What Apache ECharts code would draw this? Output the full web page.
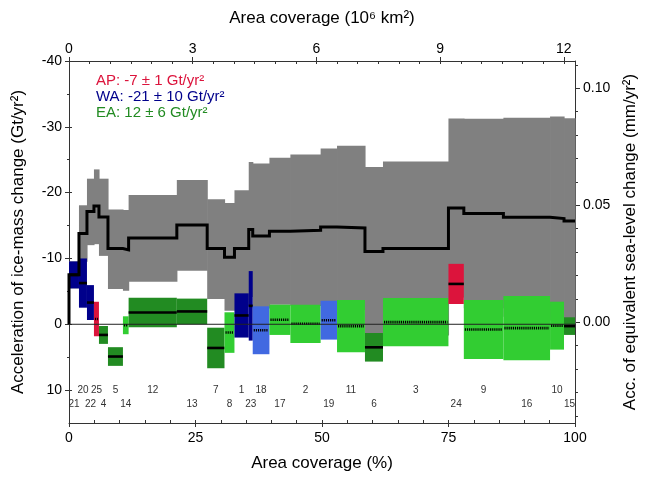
<!DOCTYPE html>
<html>
<head>
<meta charset="utf-8">
<script src="https://cdn.jsdelivr.net/npm/echarts@6/dist/echarts.min.js"></script>
<style>
  html, body { margin: 0; padding: 0; background: #fff; }
  #chart { width: 647px; height: 477px; }
</style>
</head>
<body>
<div id="chart"></div>
<script>
// ---- data ----
const basinIds = [21, 20, 22, 25, 4, 5, 14, 12, 13, 7, 8, 1, 23, 18, 17, 2, 19, 11, 6, 3, 24, 9, 16, 10, 15];
const region = ['WA','WA','WA','AP','EA','EA','EA','EA','EA','EA','EA','WA','WA','WA','EA','EA','WA','EA','EA','EA','AP','EA','EA','EA','EA'];
const significant = [1,1,1,0,1,1,0,1,1,1,0,1,1,0,0,0,0,0,1,0,1,0,0,0,1];
// basin edges along the area-coverage axis (%)
const edges = [0, 1.97, 3.55, 4.93, 5.92, 7.70, 10.66, 11.78, 21.31, 27.31, 30.73, 32.70, 35.52, 36.31,
               39.61, 43.75, 49.73, 52.97, 58.49, 62.05, 74.99, 78.03, 85.85, 95.07, 97.83, 100];
// basin acceleration (Gt/yr^2) and its uncertainty
const values = [-7.5, -6.26, -3.3, -0.8, 1.62, 4.9, 0.15, -1.8, -1.95, 3.6, 1.26, -1.34, -2.8, 0.91,
                -0.68, -0.07, -0.62, 0.28, 3.5, -0.33, -6.13, 0.79, 0.58, 0.21, 0.28];
const errors = [2.05, 3.74, 2.65, 2.62, 1.36, 1.42, 1.36, 2.24, 1.95, 3.08, 3.08, 3.36, 5.28, 3.64,
                2.3, 2.9, 2.95, 3.96, 2.17, 3.66, 3.05, 4.47, 4.87, 3.64, 1.34];
// cumulative curve and its uncertainty band
const cumulative = [-7.52, -13.79, -17.12, -17.97, -16.3, -11.52, -11.3, -13.12, -15.09, -11.52, -10.2, -11.52,
                    -14.39, -13.42, -14.14, -14.29, -14.79, -14.64, -11.06, -11.52, -17.67, -16.82, -16.26, -16.06, -15.7];
const bandUpper = [-9.55, -18.08, -22.12, -23.53, -22.12, -17.42, -17.36, -19.64, -21.91, -18.98, -18.42, -20.35,
                   -24.64, -24.44, -25.3, -25.8, -26.71, -27.12, -23.88, -24.74, -31.26, -31.21, -31.36, -31.56, -31.3];
const bandLower = [-5.45, -9.5, -12.02, -12.17, -10.39, -5.35, -5.09, -6.45, -8.12, -3.83, -2.06, -2.69,
                   -4.14, -2.4, -2.98, -2.78, -2.87, -2.16, 1.76, 1.7, -4.08, -2.43, -1.16, -0.56, -0.1];
const legendLines = [
  { region: 'AP', text: 'AP: -7 \u00b1 1 Gt/yr\u00b2' },
  { region: 'WA', text: 'WA: -21 \u00b1 10 Gt/yr\u00b2' },
  { region: 'EA', text: 'EA: 12 \u00b1 6 Gt/yr\u00b2' }
];
// tick values
const bottomTicks = [0, 25, 50, 75, 100];
const bottomMinor = [0,5,10,15,20,25,30,35,40,45,50,55,60,65,70,75,80,85,90,95,100];
const topTicks = [0, 3, 6, 9, 12];
const topMinor = [0,0.5,1,1.5,2,2.5,3,3.5,4,4.5,5,5.5,6,6.5,7,7.5,8,8.5,9,9.5,10,10.5,11,11.5,12];
const leftTicks = [-40, -30, -20, -10, 0, 10];
const leftMinor = [-35,-25,-15,-5,5];
const rightTicks = [0, 0.05, 0.10];
const rightMinor = [-0.04,-0.03,-0.02,-0.01,0.01,0.02,0.03,0.04,0.06,0.07,0.08,0.09,0.11];

// ---- styles ----
const FONT = '"Liberation Sans", Arial, sans-serif';
const COLORS = {
  AP: ['#DC143C', '#DC143C'],
  WA: ['#4169E1', '#00008B'],
  EA: ['#32CD32', '#228B22']
};
const LEGEND_COLORS = { AP: '#DC143C', WA: '#00008B', EA: '#228B22' };

function rectOf(api, x0, x1, a, b) {
  const p0 = api.coord([x0, a]);
  const p1 = api.coord([x1, b]);
  return {
    x: Math.min(p0[0], p1[0]),
    y: Math.min(p0[1], p1[1]),
    width: Math.abs(p1[0] - p0[0]),
    height: Math.abs(p1[1] - p0[1])
  };
}

const bandData = basinIds.map((id, i) => [edges[i], edges[i + 1], bandUpper[i], bandLower[i]]);
const boxData = basinIds.map((id, i) => [edges[i], edges[i + 1], values[i], errors[i]]);
const labelData = basinIds.map((id, i) => [(edges[i] + edges[i + 1]) / 2, i % 2 === 0 ? 12.1 : 10.05, id]);
const cumData = [[0, 0]];
cumulative.forEach((c, i) => cumData.push([edges[i], c]));
cumData.push([100, cumulative[cumulative.length - 1]]);

const chart = echarts.init(document.getElementById('chart'), null, { renderer: 'canvas' });

const axisLineStyle = { color: '#333', width: 1 };
const labelStyle = { color: '#000', fontSize: 14, fontFamily: FONT };
const nameStyle = { color: '#000', fontSize: 17, fontFamily: FONT };
const noLine = { show: false, onZero: false };
const mainLine = { show: true, onZero: false, lineStyle: axisLineStyle };

function tickAxis(base, values, inside, length) {
  return Object.assign({}, base, {
    axisLine: noLine,
    axisTick: { show: true, inside: inside, customValues: values, length: length, lineStyle: axisLineStyle },
    axisLabel: { show: false }, splitLine: { show: false }
  });
}

const xBottom = { type: 'value', position: 'bottom', min: 0, max: 100 };
const xTop = { type: 'value', position: 'top', min: 0, max: 12.27 };
const yLeft = { type: 'value', position: 'left', min: -40, max: 15, inverse: true };
const yRight = { type: 'value', position: 'right', min: -0.0431, max: 0.1117 };

const option = {
  animation: false,
  backgroundColor: '#fff',
  grid: { left: 69, right: 71, top: 61, bottom: 53, containLabel: false },
  xAxis: [
    Object.assign({}, xBottom, {
      axisLine: mainLine,
      axisTick: { show: true, customValues: bottomTicks, length: 4, lineStyle: axisLineStyle },
      axisLabel: { customValues: bottomTicks, margin: 8, ...labelStyle },
      splitLine: { show: false },
      name: 'Area coverage (%)', nameLocation: 'middle', nameGap: 32, nameTextStyle: nameStyle
    }),
    tickAxis(xBottom, bottomMinor, true, 3),
    Object.assign({}, xTop, {
      axisLine: mainLine,
      axisTick: { show: true, customValues: topTicks, length: 4, lineStyle: axisLineStyle },
      axisLabel: { customValues: topTicks, margin: 5, ...labelStyle },
      splitLine: { show: false },
      name: 'Area coverage (10\u2076 km\u00b2)', nameLocation: 'middle', nameGap: 34, nameTextStyle: nameStyle
    }),
    tickAxis(xTop, topMinor, true, 3)
  ],
  yAxis: [
    Object.assign({}, yLeft, {
      axisLine: mainLine,
      axisTick: { show: true, customValues: leftTicks, length: 4, lineStyle: axisLineStyle },
      axisLabel: { customValues: leftTicks, margin: 7, ...labelStyle },
      splitLine: { show: false },
      name: 'Acceleration of ice-mass change (Gt/yr\u00b2)', nameLocation: 'middle', nameGap: 42,
      nameRotate: 90, nameTextStyle: nameStyle
    }),
    tickAxis(yLeft, leftTicks, true, 3),
    tickAxis(yLeft, leftMinor, false, 2),
    Object.assign({}, yRight, {
      axisLine: mainLine,
      axisTick: { show: true, customValues: rightTicks, length: 5, lineStyle: axisLineStyle },
      axisLabel: { customValues: rightTicks, margin: 8, formatter: v => Number(v).toFixed(2), ...labelStyle },
      splitLine: { show: false },
      name: 'Acc. of equivalent sea-level change (mm/yr\u00b2)', nameLocation: 'middle', nameGap: 47,
      nameRotate: 90, nameTextStyle: nameStyle
    }),
    tickAxis(yRight, rightMinor, false, 3)
  ],
  graphic: legendLines.map((l, k) => ({
    type: 'text', x: 96, y: 81 + k * 16, z: 100,
    style: {
      text: l.text, fill: LEGEND_COLORS[l.region], font: '15px ' + FONT,
      verticalAlign: 'middle', textVerticalAlign: 'middle'
    }
  })),
  series: [
    { // uncertainty band of cumulative sum
      type: 'custom', xAxisIndex: 0, yAxisIndex: 0, z: 1, silent: true,
      data: bandData,
      encode: { x: [0, 1], y: [2, 3] },
      renderItem: (params, api) => {
        const r = rectOf(api, api.value(0), api.value(1), api.value(2), api.value(3));
        r.width += 0.6;
        return { type: 'rect', shape: r, style: { fill: '#808080' } };
      }
    },
    { // basin boxes with central value line
      type: 'custom', xAxisIndex: 0, yAxisIndex: 0, z: 2, silent: true,
      data: boxData,
      encode: { x: [0, 1], y: 2 },
      renderItem: (params, api) => {
        const i = params.dataIndex;
        const x0 = api.value(0), x1 = api.value(1), v = api.value(2), e = api.value(3);
        const r = rectOf(api, x0, x1, v - e, v + e);
        const sig = significant[i] === 1;
        const fill = COLORS[region[i]][sig ? 1 : 0];
        const py = api.coord([x0, v])[1];
        const inset = sig ? 0 : 1;
        return {
          type: 'group',
          children: [
            { type: 'rect', shape: r, style: { fill: fill } },
            {
              type: 'line',
              shape: { x1: r.x + inset, y1: py, x2: r.x + r.width - inset, y2: py },
              style: { stroke: '#000', lineWidth: 2.6, lineDash: sig ? null : [1.2, 0.9], lineCap: 'butt' }
            }
          ]
        };
      }
    },
    { // basin numbers
      type: 'custom', xAxisIndex: 0, yAxisIndex: 0, z: 3, silent: true,
      data: labelData,
      encode: { x: 0, y: 1 },
      renderItem: (params, api) => {
        const p = api.coord([api.value(0), api.value(1)]);
        return {
          type: 'text', x: p[0], y: p[1],
          style: {
            text: String(api.value(2)), fill: '#333', font: '10px ' + FONT,
            align: 'center', verticalAlign: 'middle', textAlign: 'center', textVerticalAlign: 'middle'
          }
        };
      }
    },
    { // cumulative curve
      type: 'line', xAxisIndex: 0, yAxisIndex: 0, z: 4, silent: true,
      step: 'end', symbol: 'none', data: cumData,
      lineStyle: { color: '#000', width: 3, join: 'miter', cap: 'butt' }
    },
    { // zero line
      type: 'line', xAxisIndex: 0, yAxisIndex: 0, z: 5, silent: true,
      symbol: 'none', data: [[0, 0], [100, 0]],
      lineStyle: { color: '#222', width: 1 }
    }
  ]
};

chart.setOption(option);
</script>
</body>
</html>
